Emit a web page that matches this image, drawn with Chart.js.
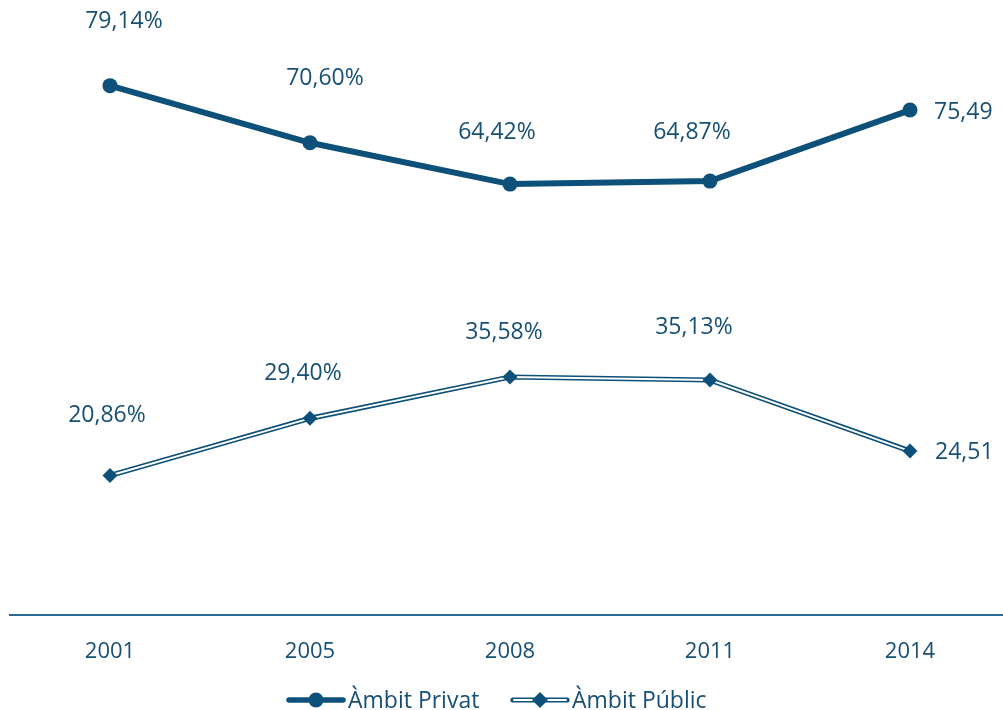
<!DOCTYPE html>
<html>
<head>
<meta charset="utf-8">
<script src="https://cdn.jsdelivr.net/npm/chart.js@4.4.1/dist/chart.umd.min.js"></script>
<style>
  html, body { margin: 0; padding: 0; background: #fff; overflow: hidden; width: 1003px; height: 710px; }
  #wrap { position: absolute; left: 0; top: 0; width: 1020px; height: 710px; }
</style>
</head>
<body>
<div id="wrap"><canvas id="c" width="1020" height="710"></canvas></div>
<script>
const years = ['2001', '2005', '2008', '2011', '2014'];
const privat = [79.14, 70.60, 64.42, 64.87, 75.49];
const public_ = [20.86, 29.40, 35.58, 35.13, 24.51];
const seriesNames = ['Àmbit Privat', 'Àmbit Públic'];

const DARK = '#0d5079';
const TEXT = '#174f75';
const FONT = "'Open Sans', 'Liberation Sans', sans-serif";

function fmt(v, i, n) {
  const s = v.toFixed(2).replace('.', ',');
  return i === n - 1 ? s : s + '%';
}

const labelPlugin = {
  id: 'valueLabels',
  afterDatasetsDraw(chart, args, opts) {
    const ctx = chart.ctx;
    ctx.save();
    ctx.font = '23px ' + FONT;
    ctx.fillStyle = TEXT;
    ctx.textBaseline = 'middle';
    opts.targets.forEach(t => {
      const meta = chart.getDatasetMeta(t.dataset);
      const data = chart.data.datasets[t.dataset].data;
      meta.data.forEach((pt, i) => {
        const off = t.offsets[i];
        ctx.textAlign = off[2] || 'center';
        ctx.fillText(fmt(data[i], i, data.length), pt.x + off[0], pt.y + off[1]);
      });
    });
    ctx.restore();
  }
};

const legendPlugin = {
  id: 'customLegend',
  afterDraw(chart, args, opts) {
    const ctx = chart.ctx;
    ctx.save();
    const y = opts.y;
    ctx.font = '23px ' + FONT;
    ctx.fillStyle = TEXT;
    ctx.textBaseline = 'middle';
    ctx.textAlign = 'left';
    // item 1
    let x = opts.x1;
    ctx.strokeStyle = DARK;
    ctx.lineWidth = 5.5;
    ctx.lineCap = 'round';
    ctx.beginPath(); ctx.moveTo(x, y); ctx.lineTo(x + 54, y); ctx.stroke();
    ctx.fillStyle = DARK;
    ctx.beginPath(); ctx.arc(x + 27, y, 7.5, 0, Math.PI * 2); ctx.fill();
    ctx.fillStyle = TEXT;
    ctx.fillText(seriesNames[0], x + 59, y + 1);
    // item 2
    x = opts.x2;
    ctx.lineWidth = 5.2;
    ctx.strokeStyle = DARK;
    ctx.beginPath(); ctx.moveTo(x, y); ctx.lineTo(x + 54, y); ctx.stroke();
    ctx.lineWidth = 1.9;
    ctx.strokeStyle = '#ffffff';
    ctx.beginPath(); ctx.moveTo(x + 1, y); ctx.lineTo(x + 53, y); ctx.stroke();
    ctx.fillStyle = DARK;
    ctx.beginPath();
    ctx.moveTo(x + 27, y - 8); ctx.lineTo(x + 35, y); ctx.lineTo(x + 27, y + 8); ctx.lineTo(x + 19, y);
    ctx.closePath(); ctx.fill();
    ctx.fillStyle = TEXT;
    ctx.fillText(seriesNames[1], x + 59, y + 1);
    ctx.restore();
  }
};

new Chart(document.getElementById('c'), {
  type: 'line',
  data: {
    labels: years,
    datasets: [
      { label: seriesNames[0], data: privat, borderColor: DARK, backgroundColor: DARK,
        borderWidth: 6, pointRadius: 7.5, pointStyle: 'circle', pointBorderWidth: 0,
        tension: 0, order: 0 },
      { label: seriesNames[1] + ' outer', data: public_, borderColor: DARK,
        borderWidth: 5.2, pointRadius: 0, tension: 0, order: 3 },
      { label: seriesNames[1] + ' inner', data: public_, borderColor: '#ffffff',
        borderWidth: 1.9, pointRadius: 0, tension: 0, order: 2 },
      { label: seriesNames[1], data: public_, showLine: false, backgroundColor: DARK,
        borderColor: DARK, pointStyle: 'rectRot', pointRadius: 7.5, pointBorderWidth: 0, order: 1 }
    ]
  },
  options: {
    responsive: false,
    animation: false,
    layout: { padding: { left: 10, right: 10, top: 13, bottom: 0 } },
    scales: {
      x: {
        offset: true,
        grid: { display: false, drawTicks: false },
        border: { display: true, color: '#2a6a8e', width: 2 },
        ticks: { color: TEXT, font: { family: FONT, size: 22 }, padding: 24 },
        afterFit(s) { s.height = 95; }
      },
      y: { display: false, min: 0, max: 90 }
    },
    plugins: {
      legend: { display: false },
      tooltip: { enabled: false },
      valueLabels: {
        targets: [
          { dataset: 0, offsets: [[14, -64], [15, -64], [-13, -52], [-18, -49], [24, 2, 'left']] },
          { dataset: 3, offsets: [[-3, -60], [-7, -45], [-6, -45], [-16, -53], [25, 1, 'left']] }
        ]
      },
      customLegend: { y: 700, x1: 289, x2: 513 }
    }
  },
  plugins: [labelPlugin, legendPlugin]
});
</script>
</body>
</html>
